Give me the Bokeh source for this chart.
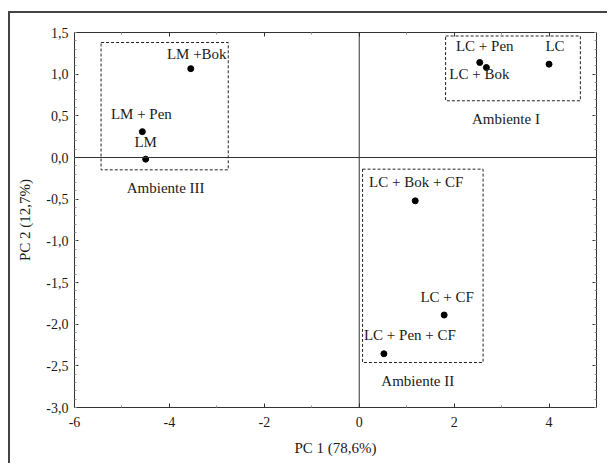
from bokeh.plotting import figure
from bokeh.models import ColumnDataSource, FixedTicker, Span, LinearAxis, CustomLabelingPolicy
from bokeh.core.properties import value
from bokeh.embed import file_html
from bokeh.resources import INLINE

# Data
names = ["LM +Bok", "LM + Pen", "LM", "LC + Pen", "LC", "LC + Bok",
         "LC + Bok + CF", "LC + CF", "LC + Pen + CF"]
pc1 = [-3.55, -4.57, -4.50, 2.54, 4.00, 2.68, 1.18, 1.79, 0.52]
pc2 = [1.066, 0.31, -0.02, 1.14, 1.12, 1.08, -0.52, -1.89, -2.355]
lab_dx = [6, -1, 0, 5, 6, -7, 1, 3, 26]
lab_dy = [-15, -18, -17, -17, -18, 6, -19, -18, -19]

groups = ["Ambiente III", "Ambiente I", "Ambiente II"]
box_left = [-5.44, 1.82, 0.07]
box_right = [-2.76, 4.66, 2.61]
box_top = [1.38, 1.458, -0.14]
box_bottom = [-0.148, 0.681, -2.46]
grp_dx = [1, -7, -5]

x_ticks = [-6, -4, -2, 0, 2, 4]
x_tick_labels = ["-6", "-4", "-2", "0", "2", "4"]
x_minor = [-5, -3, -1, 1, 3]
y_ticks = [-3.0, -2.5, -2.0, -1.5, -1.0, -0.5, 0.0, 0.5, 1.0, 1.5]
y_tick_labels = ["-3,0", "-2,5", "-2,0", "-1,5", "-1,0", "-0,5", "0,0", "0,5", "1,0", "1,5"]
y_minor = [round(-3 + 0.1 * i, 1) for i in range(46)]

FONT = "Liberation Serif"
DARK = "#333333"
TXT = "#1a1a1a"

p = figure(width=599, height=452, x_range=(-6, 5), y_range=(-3.0, 1.5),
           output_backend="svg", toolbar_location=None,
           min_border_left=64, min_border_right=13, min_border_top=19, min_border_bottom=58)
p.styles = {"border-left": "2px solid #444", "border-top": "2px solid #444",
            "margin-left": "8px", "margin-top": "11px"}
p.grid.visible = False
p.outline_line_color = DARK
p.outline_line_width = 1
p.background_fill_color = "white"
p.border_fill_color = "white"

# Axes
p.xaxis.ticker = FixedTicker(ticks=x_ticks, minor_ticks=x_minor)
p.yaxis.ticker = FixedTicker(ticks=y_ticks, minor_ticks=y_minor)
p.xaxis.major_label_overrides = {t: l for t, l in zip(x_ticks, x_tick_labels)}
p.yaxis.major_label_overrides = {t: l for t, l in zip(y_ticks, y_tick_labels)}
for ax in (p.xaxis[0], p.yaxis[0]):
    ax.axis_line_color = DARK
    ax.major_tick_line_color = DARK
    ax.minor_tick_line_color = "#999999"
    ax.major_tick_in = 4
    ax.major_tick_out = 0
    ax.minor_tick_in = 2
    ax.minor_tick_out = 0
    ax.major_label_text_font = FONT
    ax.major_label_text_font_size = "14px"
    ax.major_label_text_color = TXT
    ax.axis_label_text_font = FONT
    ax.axis_label_text_font_size = "15px"
    ax.axis_label_text_font_style = "normal"
    ax.axis_label_text_color = TXT
p.xaxis.axis_label = "PC 1 (78,6%)"
p.yaxis.axis_label = "PC 2 (12,7%)"
p.xaxis.major_label_standoff = 9
p.yaxis.major_label_standoff = 6
p.xaxis.axis_label_standoff = 10
p.yaxis.axis_label_standoff = 10

# top / right tick-only axes (labels emptied and filtered out, so no room is reserved)
hide = "for (const i of indices) indices.unset(i)\nreturn indices"
top = LinearAxis(ticker=FixedTicker(ticks=x_ticks, minor_ticks=x_minor),
                 major_label_policy=CustomLabelingPolicy(code=hide),
                 major_label_overrides={t: "" for t in x_ticks},
                 major_label_standoff=0,
                 axis_line_color=None,
                 major_tick_in=4, major_tick_out=0, minor_tick_in=2, minor_tick_out=0,
                 major_tick_line_color=DARK, minor_tick_line_color="#999999")
right = LinearAxis(ticker=FixedTicker(ticks=y_ticks, minor_ticks=y_minor),
                   major_label_policy=CustomLabelingPolicy(code=hide),
                   major_label_overrides={t: "" for t in y_ticks},
                   major_label_standoff=0,
                   axis_line_color=None,
                   major_tick_in=4, major_tick_out=0, minor_tick_in=2, minor_tick_out=0,
                   major_tick_line_color=DARK, minor_tick_line_color="#999999")
p.add_layout(top, "above")
p.add_layout(right, "right")

# zero lines
p.add_layout(Span(location=0, dimension="height", line_color=DARK, line_width=1))
p.add_layout(Span(location=0, dimension="width", line_color=DARK, line_width=1))

# group boxes
gsrc = ColumnDataSource(dict(left=box_left, right=box_right, top=box_top, bottom=box_bottom,
                             name=groups, dx=grp_dx,
                             cx=[(a + b) / 2 for a, b in zip(box_left, box_right)]))
p.quad(left="left", right="right", top="top", bottom="bottom", source=gsrc,
       fill_color=None, line_color="#222222", line_width=1, line_dash="3 2")
p.text(x="cx", y="bottom", text="name", x_offset="dx", y_offset=18, source=gsrc,
       text_font=value(FONT), text_font_size="15px", text_color=TXT,
       text_align="center", text_baseline="middle")

# points
src = ColumnDataSource(dict(x=pc1, y=pc2, name=names, dx=lab_dx, dy=lab_dy))
p.scatter(x="x", y="y", source=src, size=6, fill_color="black", line_color="black")
p.text(x="x", y="y", text="name", x_offset="dx", y_offset="dy", source=src,
       text_font=value(FONT), text_font_size="15px", text_color=TXT,
       text_align="center", text_baseline="middle")

open("out.html", "w").write(file_html(p, INLINE))
